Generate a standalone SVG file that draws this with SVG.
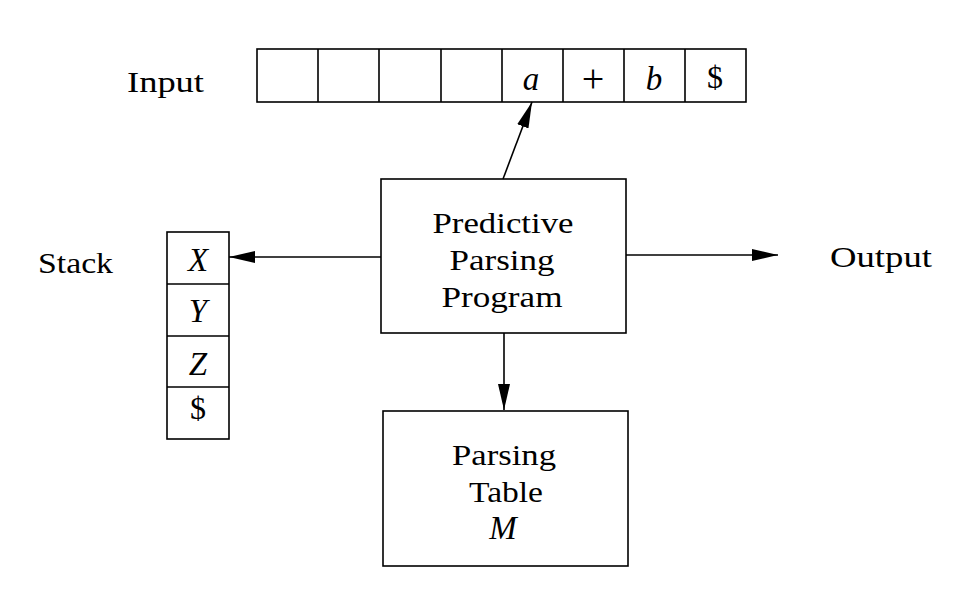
<svg xmlns="http://www.w3.org/2000/svg" width="968" height="612" viewBox="0 0 968 612">
<defs>
<marker id="ah" viewBox="0 0 26 12" refX="26" refY="6" markerWidth="26" markerHeight="12" markerUnits="userSpaceOnUse" orient="auto">
<path d="M0,0 L26,6 L0,12 Z" fill="#000"/>
</marker>
</defs>
<style>
.box{fill:#fff;stroke:#000;stroke-width:1.6}
.cell{fill:none;stroke:#000;stroke-width:1.6}
.t{font-family:"Liberation Serif","Times New Roman",serif;font-size:29px;fill:#000;text-anchor:middle}
.m{font-family:"Liberation Serif","Times New Roman",serif;font-size:33px;fill:#000;text-anchor:middle}
.d{font-family:"Liberation Serif","Times New Roman",serif;font-size:32px;fill:#000;text-anchor:middle}
.p{font-family:"Liberation Serif","Times New Roman",serif;font-size:40px;fill:#000;text-anchor:middle}
.i{font-style:italic}
.lbl{font-family:"Liberation Serif","Times New Roman",serif;font-size:29px;fill:#000}
.conn{stroke:#000;stroke-width:1.6;fill:none;marker-end:url(#ah)}
</style>
<rect width="968" height="612" fill="#fff"/>

<g id="input-label"><text class="lbl" x="127" y="92" textLength="77" lengthAdjust="spacingAndGlyphs">Input</text></g>

<g id="input-tape">
<rect class="cell" x="257" y="49" width="489" height="53"/>
<path class="cell" d="M318,49V102M379,49V102M441,49V102M502,49V102M563,49V102M624,49V102M685,49V102"/>
<text class="m i" x="531" y="90">a</text>
<text class="p" x="593" y="92">+</text>
<text class="m i" x="654" y="90">b</text>
<text class="d" x="715" y="88">$</text>
</g>

<g id="stack-label"><text class="lbl" x="38" y="273" textLength="75" lengthAdjust="spacingAndGlyphs">Stack</text></g>

<g id="stack">
<rect class="cell" x="167" y="232" width="62" height="207"/>
<path class="cell" d="M167,284H229M167,336H229M167,387H229"/>
<text class="m i" x="198" y="271">X</text>
<text class="m i" x="198" y="322">Y</text>
<text class="m i" x="198" y="375">Z</text>
<text class="d" x="198" y="419">$</text>
</g>

<g id="program">
<rect class="box" x="381" y="179" width="245" height="154"/>
<text class="t" x="503" y="233" textLength="141" lengthAdjust="spacingAndGlyphs">Predictive</text>
<text class="t" x="502" y="270" textLength="105" lengthAdjust="spacingAndGlyphs">Parsing</text>
<text class="t" x="502" y="307" textLength="121" lengthAdjust="spacingAndGlyphs">Program</text>
</g>

<g id="table">
<rect class="box" x="383" y="411" width="245" height="155"/>
<text class="t" x="504" y="465" textLength="104" lengthAdjust="spacingAndGlyphs">Parsing</text>
<text class="t" x="506" y="502" textLength="74" lengthAdjust="spacingAndGlyphs">Table</text>
<text class="m i" x="503" y="539">M</text>
</g>

<g id="output-label"><text class="lbl" x="830" y="267" textLength="102" lengthAdjust="spacingAndGlyphs">Output</text></g>

<g id="connectors">
<line class="conn" x1="503" y1="179" x2="532" y2="102"/>
<line class="conn" x1="381" y1="257" x2="229" y2="257"/>
<line class="conn" x1="626" y1="255" x2="778" y2="255"/>
<line class="conn" x1="504" y1="333" x2="504" y2="410"/>
</g>
</svg>
